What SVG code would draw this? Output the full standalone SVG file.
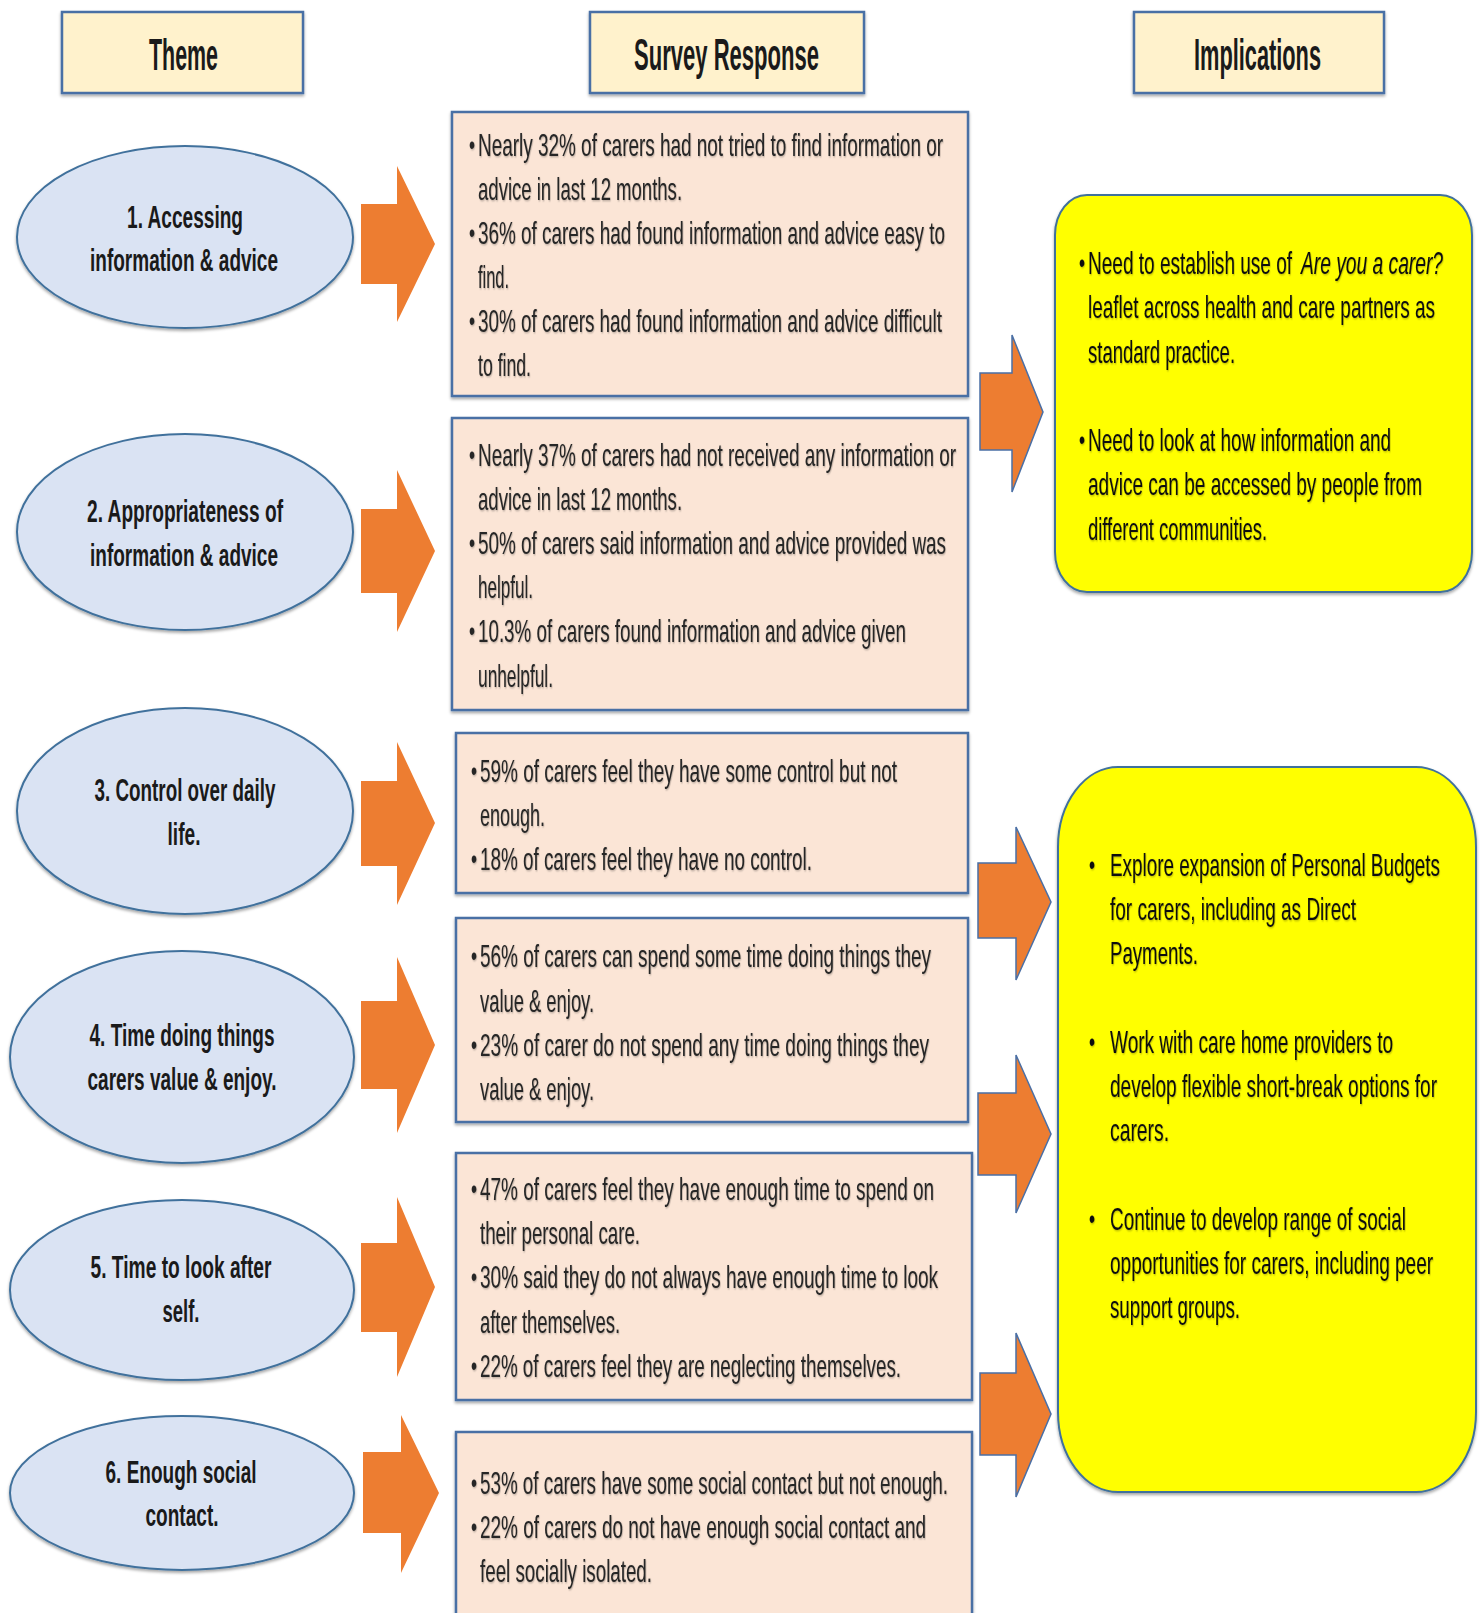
<svg xmlns="http://www.w3.org/2000/svg" width="1480" height="1613" viewBox="0 0 1480 1613">
<defs>
<filter id="sh" x="-5%" y="-5%" width="110%" height="115%"><feDropShadow dx="0" dy="2" stdDeviation="1.5" flood-color="#000" flood-opacity="0.35"/></filter>
<filter id="ts" x="-2%" y="-5%" width="104%" height="110%"><feDropShadow dx="1" dy="1" stdDeviation="0.8" flood-color="#000" flood-opacity="0.3"/></filter>
</defs>
<style>
.hdr{fill:#FFF2CC;stroke:#4A6FA5;stroke-width:2.5;filter:url(#sh)}
.ell{fill:#DAE3F3;stroke:#41719C;stroke-width:2;filter:url(#sh)}
.box{fill:#FBE5D6;stroke:#4A6FA5;stroke-width:2.5;filter:url(#sh)}
.yel{fill:#FFFF00;stroke:#41719C;stroke-width:2;filter:url(#sh)}
.arr{fill:#ED7D31}
.arr2{fill:#ED7D31;stroke:#4A6FA5;stroke-width:1.5}
text{font-family:"Liberation Sans",Arial,sans-serif;font-size:32px;fill:#262626}
.ht{font-size:44px;font-weight:bold;fill:#1a1a1a}
.et{font-weight:bold;fill:#1a1a1a;text-anchor:middle}
.yt text{fill:#111}
.st{filter:url(#ts)}
.bl{font-size:28px}
</style>

<g id="connectors">
<path class="arr" d="M361,204 H397 V166 L435,244 L397,322 V284 H361 Z"/>
<path class="arr" d="M361,509 H397 V470 L435,551 L397,632 V593 H361 Z"/>
<path class="arr" d="M361,781 H397 V742 L435,823 L397,905 V866 H361 Z"/>
<path class="arr" d="M361,1001 H397 V957 L435,1045 L397,1133 V1089 H361 Z"/>
<path class="arr" d="M361,1243 H397 V1197 L435,1287 L397,1377 V1332 H361 Z"/>
<path class="arr" d="M363,1452 H401 V1415 L439,1493 L401,1573 V1533 H363 Z"/>
<path class="arr2" d="M980,373 H1012 V335 L1043,412 L1012,492 V450 H980 Z"/>
<path class="arr2" d="M978,863 H1016 V827 L1051,902 L1016,980 V938 H978 Z"/>
<path class="arr2" d="M978,1093 H1016 V1055 L1051,1134 L1016,1213 V1175 H978 Z"/>
<path class="arr2" d="M980,1373 H1016 V1333 L1051,1414 L1016,1497 V1455 H980 Z"/>
</g>

<g id="header-theme">
<rect class="hdr" x="62" y="12" width="241" height="81"/>
<g transform="scale(0.49 1)"><text class="ht" x="304.1" y="70" textLength="140.8" lengthAdjust="spacingAndGlyphs">Theme</text></g>
</g>
<g id="header-survey">
<rect class="hdr" x="590" y="12" width="274" height="81"/>
<g transform="scale(0.49 1)"><text class="ht" x="1293.9" y="70" textLength="377.6" lengthAdjust="spacingAndGlyphs">Survey Response</text></g>
</g>
<g id="header-implications">
<rect class="hdr" x="1134" y="12" width="250" height="81"/>
<g transform="scale(0.49 1)"><text class="ht" x="2436.7" y="70" textLength="259.2" lengthAdjust="spacingAndGlyphs">Implications</text></g>
</g>

<g id="theme-1">
<ellipse class="ell" cx="185" cy="237" rx="168" ry="91"/>
<g transform="scale(0.59 1)">
<text class="et" x="313.6" y="228" textLength="196.6" lengthAdjust="spacingAndGlyphs">1. Accessing</text>
<text class="et" x="311.9" y="271" textLength="318.6" lengthAdjust="spacingAndGlyphs">information &amp; advice</text>
</g>
</g>
<g id="theme-2">
<ellipse class="ell" cx="185" cy="532" rx="168" ry="98"/>
<g transform="scale(0.59 1)">
<text class="et" x="313.6" y="522" textLength="332.2" lengthAdjust="spacingAndGlyphs">2. Appropriateness of</text>
<text class="et" x="311.9" y="566" textLength="318.6" lengthAdjust="spacingAndGlyphs">information &amp; advice</text>
</g>
</g>
<g id="theme-3">
<ellipse class="ell" cx="185" cy="811" rx="168" ry="103"/>
<g transform="scale(0.59 1)">
<text class="et" x="313.6" y="801" textLength="306.8" lengthAdjust="spacingAndGlyphs">3. Control over daily</text>
<text class="et" x="311.9" y="845" textLength="55.9" lengthAdjust="spacingAndGlyphs">life.</text>
</g>
</g>
<g id="theme-4">
<ellipse class="ell" cx="182" cy="1057" rx="172" ry="106"/>
<g transform="scale(0.59 1)">
<text class="et" x="308.5" y="1046" textLength="313.6" lengthAdjust="spacingAndGlyphs">4. Time doing things</text>
<text class="et" x="308.5" y="1090" textLength="320.3" lengthAdjust="spacingAndGlyphs">carers value &amp; enjoy.</text>
</g>
</g>
<g id="theme-5">
<ellipse class="ell" cx="182" cy="1290" rx="172" ry="90"/>
<g transform="scale(0.59 1)">
<text class="et" x="306.8" y="1278" textLength="306.8" lengthAdjust="spacingAndGlyphs">5. Time to look after</text>
<text class="et" x="306.8" y="1322" textLength="62.7" lengthAdjust="spacingAndGlyphs">self.</text>
</g>
</g>
<g id="theme-6">
<ellipse class="ell" cx="182" cy="1493" rx="172" ry="77"/>
<g transform="scale(0.59 1)">
<text class="et" x="306.8" y="1483" textLength="255.9" lengthAdjust="spacingAndGlyphs">6. Enough social</text>
<text class="et" x="308.5" y="1526" textLength="123.7" lengthAdjust="spacingAndGlyphs">contact.</text>
</g>
</g>

<g id="survey-1">
<rect class="box" x="452" y="112" width="516" height="284"/>
<g class="st" transform="scale(0.59 1)">
<text class="bl" x="794.9" y="154" textLength="10.2" lengthAdjust="spacingAndGlyphs">•</text>
<text x="810.2" y="156" textLength="788.1" lengthAdjust="spacingAndGlyphs">Nearly 32% of carers had not tried to find information or</text>
<text x="810.2" y="200" textLength="345.8" lengthAdjust="spacingAndGlyphs">advice in last 12 months.</text>
<text class="bl" x="794.9" y="242" textLength="10.2" lengthAdjust="spacingAndGlyphs">•</text>
<text x="810.2" y="244" textLength="791.5" lengthAdjust="spacingAndGlyphs">36% of carers had found information and advice easy to</text>
<text x="810.2" y="288" textLength="52.5" lengthAdjust="spacingAndGlyphs">find.</text>
<text class="bl" x="794.9" y="330" textLength="10.2" lengthAdjust="spacingAndGlyphs">•</text>
<text x="810.2" y="332" textLength="786.4" lengthAdjust="spacingAndGlyphs">30% of carers had found information and advice difficult</text>
<text x="810.2" y="376" textLength="89.8" lengthAdjust="spacingAndGlyphs">to find.</text>
</g>
</g>

<g id="survey-2">
<rect class="box" x="452" y="418" width="516" height="292"/>
<g class="st" transform="scale(0.59 1)">
<text class="bl" x="794.9" y="464" textLength="10.2" lengthAdjust="spacingAndGlyphs">•</text>
<text x="810.2" y="466" textLength="810.2" lengthAdjust="spacingAndGlyphs">Nearly 37% of carers had not received any information or</text>
<text x="810.2" y="510" textLength="345.8" lengthAdjust="spacingAndGlyphs">advice in last 12 months.</text>
<text class="bl" x="794.9" y="552" textLength="10.2" lengthAdjust="spacingAndGlyphs">•</text>
<text x="810.2" y="554" textLength="793.2" lengthAdjust="spacingAndGlyphs">50% of carers said information and advice provided was</text>
<text x="810.2" y="598" textLength="93.2" lengthAdjust="spacingAndGlyphs">helpful.</text>
<text class="bl" x="794.9" y="640" textLength="10.2" lengthAdjust="spacingAndGlyphs">•</text>
<text x="810.2" y="642" textLength="725.4" lengthAdjust="spacingAndGlyphs">10.3% of carers found information and advice given</text>
<text x="810.2" y="687" textLength="127.1" lengthAdjust="spacingAndGlyphs">unhelpful.</text>
</g>
</g>

<g id="survey-3">
<rect class="box" x="456" y="733" width="512" height="160"/>
<g class="st" transform="scale(0.59 1)">
<text class="bl" x="798.3" y="780" textLength="10.2" lengthAdjust="spacingAndGlyphs">•</text>
<text x="813.6" y="782" textLength="706.8" lengthAdjust="spacingAndGlyphs">59% of carers feel they have some control but not</text>
<text x="813.6" y="826" textLength="110.2" lengthAdjust="spacingAndGlyphs">enough.</text>
<text class="bl" x="798.3" y="868" textLength="10.2" lengthAdjust="spacingAndGlyphs">•</text>
<text x="813.6" y="870" textLength="562.7" lengthAdjust="spacingAndGlyphs">18% of carers feel they have no control.</text>
</g>
</g>

<g id="survey-4">
<rect class="box" x="456" y="918" width="512" height="204"/>
<g class="st" transform="scale(0.59 1)">
<text class="bl" x="798.3" y="965" textLength="10.2" lengthAdjust="spacingAndGlyphs">•</text>
<text x="813.6" y="967" textLength="764.4" lengthAdjust="spacingAndGlyphs">56% of carers can spend some time doing things they</text>
<text x="813.6" y="1012" textLength="193.2" lengthAdjust="spacingAndGlyphs">value &amp; enjoy.</text>
<text class="bl" x="798.3" y="1054" textLength="10.2" lengthAdjust="spacingAndGlyphs">•</text>
<text x="813.6" y="1056" textLength="761.0" lengthAdjust="spacingAndGlyphs">23% of carer do not spend any time doing things they</text>
<text x="813.6" y="1100" textLength="193.2" lengthAdjust="spacingAndGlyphs">value &amp; enjoy.</text>
</g>
</g>

<g id="survey-5">
<rect class="box" x="456" y="1153" width="516" height="247"/>
<g class="st" transform="scale(0.59 1)">
<text class="bl" x="798.3" y="1198" textLength="10.2" lengthAdjust="spacingAndGlyphs">•</text>
<text x="813.6" y="1200" textLength="769.5" lengthAdjust="spacingAndGlyphs">47% of carers feel they have enough time to spend on</text>
<text x="813.6" y="1244" textLength="271.2" lengthAdjust="spacingAndGlyphs">their personal care.</text>
<text class="bl" x="798.3" y="1286" textLength="10.2" lengthAdjust="spacingAndGlyphs">•</text>
<text x="813.6" y="1288" textLength="776.3" lengthAdjust="spacingAndGlyphs">30% said they do not always have enough time to look</text>
<text x="813.6" y="1333" textLength="237.3" lengthAdjust="spacingAndGlyphs">after themselves.</text>
<text class="bl" x="798.3" y="1375" textLength="10.2" lengthAdjust="spacingAndGlyphs">•</text>
<text x="813.6" y="1377" textLength="713.6" lengthAdjust="spacingAndGlyphs">22% of carers feel they are neglecting themselves.</text>
</g>
</g>

<g id="survey-6">
<rect class="box" x="456" y="1432" width="516" height="200"/>
<g class="st" transform="scale(0.59 1)">
<text class="bl" x="798.3" y="1492" textLength="10.2" lengthAdjust="spacingAndGlyphs">•</text>
<text x="813.6" y="1494" textLength="793.2" lengthAdjust="spacingAndGlyphs">53% of carers have some social contact but not enough.</text>
<text class="bl" x="798.3" y="1536" textLength="10.2" lengthAdjust="spacingAndGlyphs">•</text>
<text x="813.6" y="1538" textLength="755.9" lengthAdjust="spacingAndGlyphs">22% of carers do not have enough social contact and</text>
<text x="813.6" y="1582" textLength="291.5" lengthAdjust="spacingAndGlyphs">feel socially isolated.</text>
</g>
</g>

<g id="implications-1">
<rect class="yel" x="1055" y="195" width="417" height="397" rx="32" ry="40"/>
<g class="st yt" transform="scale(0.59 1)">
<text class="bl" x="1828.8" y="272" textLength="10.2" lengthAdjust="spacingAndGlyphs">•</text>
<text x="1844.1" y="274" textLength="345.8" lengthAdjust="spacingAndGlyphs">Need to establish use of</text>
<text x="2205.1" y="274" font-style="italic" textLength="240.7" lengthAdjust="spacingAndGlyphs">Are you a carer?</text>
<text x="1844.1" y="318" textLength="588.1" lengthAdjust="spacingAndGlyphs">leaflet across health and care partners as</text>
<text x="1844.1" y="363" textLength="249.2" lengthAdjust="spacingAndGlyphs">standard practice.</text>
<text class="bl" x="1828.8" y="449" textLength="10.2" lengthAdjust="spacingAndGlyphs">•</text>
<text x="1844.1" y="451" textLength="513.6" lengthAdjust="spacingAndGlyphs">Need to look at how information and</text>
<text x="1844.1" y="495" textLength="566.1" lengthAdjust="spacingAndGlyphs">advice can be accessed by people from</text>
<text x="1844.1" y="540" textLength="303.4" lengthAdjust="spacingAndGlyphs">different communities.</text>
</g>
</g>

<g id="implications-2">
<rect class="yel" x="1058" y="767" width="418" height="725" rx="60" ry="80"/>
<g class="st yt" transform="scale(0.59 1)">
<text class="bl" x="1845.8" y="874" textLength="10.2" lengthAdjust="spacingAndGlyphs">•</text>
<text x="1881.4" y="876" textLength="559.3" lengthAdjust="spacingAndGlyphs">Explore expansion of Personal Budgets</text>
<text x="1881.4" y="920" textLength="416.9" lengthAdjust="spacingAndGlyphs">for carers, including as Direct</text>
<text x="1881.4" y="964" textLength="149.2" lengthAdjust="spacingAndGlyphs">Payments.</text>
<text class="bl" x="1845.8" y="1051" textLength="10.2" lengthAdjust="spacingAndGlyphs">•</text>
<text x="1881.4" y="1053" textLength="479.7" lengthAdjust="spacingAndGlyphs">Work with care home providers to</text>
<text x="1881.4" y="1097" textLength="554.2" lengthAdjust="spacingAndGlyphs">develop flexible short-break options for</text>
<text x="1881.4" y="1141" textLength="100" lengthAdjust="spacingAndGlyphs">carers.</text>
<text class="bl" x="1845.8" y="1228" textLength="10.2" lengthAdjust="spacingAndGlyphs">•</text>
<text x="1881.4" y="1230" textLength="501.7" lengthAdjust="spacingAndGlyphs">Continue to develop range of social</text>
<text x="1881.4" y="1274" textLength="547.5" lengthAdjust="spacingAndGlyphs">opportunities for carers, including peer</text>
<text x="1881.4" y="1318" textLength="220.3" lengthAdjust="spacingAndGlyphs">support groups.</text>
</g>
</g>
</svg>
